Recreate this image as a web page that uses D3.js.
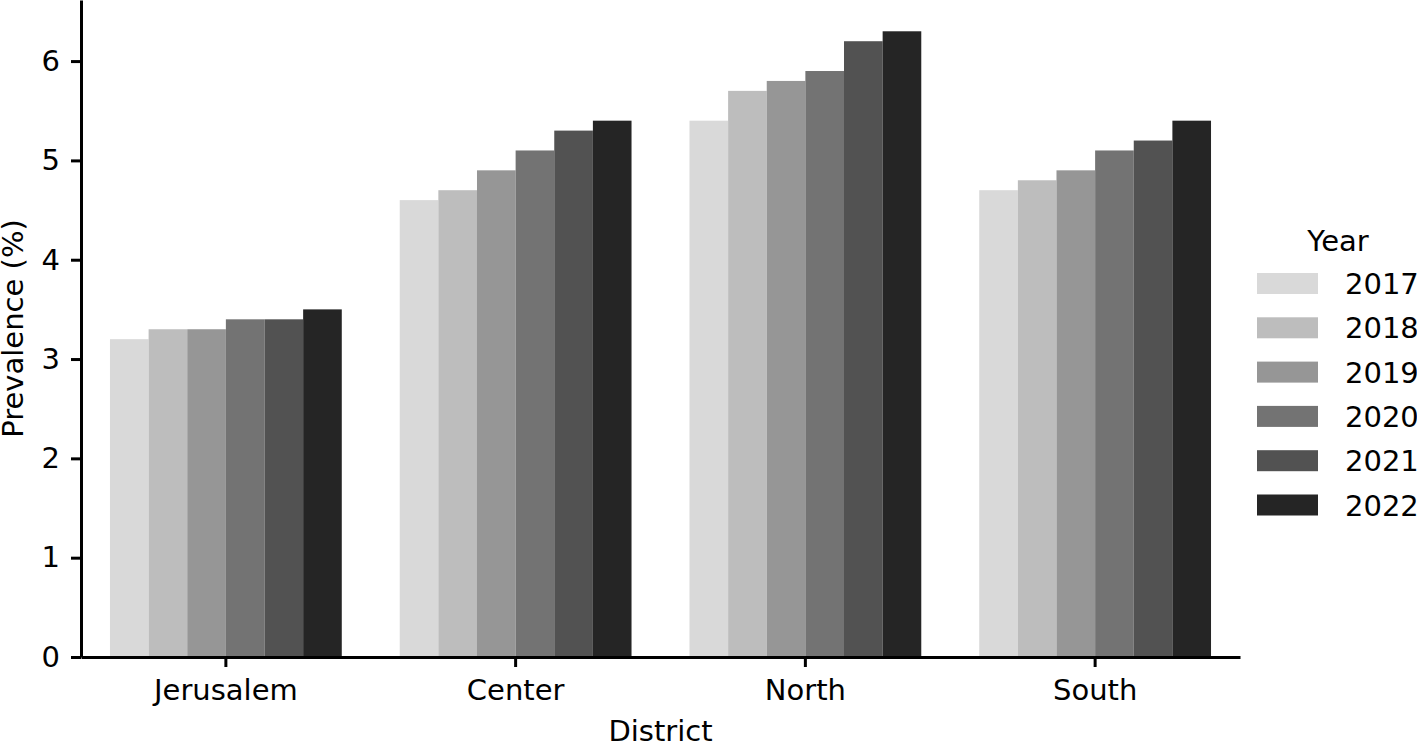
<!DOCTYPE html>
<html>
<head>
<meta charset="utf-8">
<script src="https://cdn.jsdelivr.net/npm/d3@7"></script>
<style>
  body { margin: 0; background: #fff; }
  text { font-family: "DejaVu Sans", sans-serif; fill: #000; }
</style>
</head>
<body>
<script>
const districts = ['Jerusalem', 'Center', 'North', 'South']
const years = ['2017', '2018', '2019', '2020', '2021', '2022']
const jerusalem = [3.2, 3.3, 3.3, 3.4, 3.4, 3.5]
const center = [4.6, 4.7, 4.9, 5.1, 5.3, 5.4]
const north = [5.4, 5.7, 5.8, 5.9, 6.2, 6.3]
const south = [4.7, 4.8, 4.9, 5.1, 5.2, 5.4]
const yTicks = [0, 1, 2, 3, 4, 5, 6]
const greys = ['#d9d9d9', '#bdbdbd', '#969696', '#737373', '#525252', '#252525']

const seriesByDistrict = [jerusalem, center, north, south]
const rows = []
districts.forEach((d, i) => {
  years.forEach((y, j) => rows.push({ district: d, year: y, value: seriesByDistrict[i][j] }))
})

const width = 1417
const height = 743
const plotLeft = 81, plotRight = 1240, plotTop = 0, plotBottom = 657
const fs = 29

const svg = d3.select('body').append('svg')
  .attr('width', width)
  .attr('height', height)

const x0 = d3.scaleBand()
  .domain(districts)
  .range([plotLeft, plotRight])
  .paddingInner(0.2)
  .paddingOuter(0.1)

const x1 = d3.scaleBand()
  .domain(years)
  .range([0, x0.bandwidth()])

const y = d3.scaleLinear()
  .domain([0, 6.3 * 1.05])
  .range([plotBottom, plotTop])

const colour = d3.scaleOrdinal().domain(years).range(greys)

svg.append('g')
  .selectAll('rect')
  .data(rows)
  .enter()
  .append('rect')
  .attr('x', d => x0(d.district) + x1(d.year))
  .attr('y', d => y(d.value))
  .attr('width', x1.bandwidth())
  .attr('height', d => y(0) - y(d.value))
  .attr('fill', d => colour(d.year))

// axes
const xAxis = svg.append('g')
  .attr('transform', `translate(0, ${plotBottom})`)
  .call(d3.axisBottom(x0).tickSize(10).tickPadding(12).tickSizeOuter(0))
xAxis.select('.domain').attr('stroke-width', 3)
xAxis.selectAll('.tick line').attr('stroke-width', 3)
xAxis.selectAll('text').attr('font-size', fs).attr('font-family', 'DejaVu Sans')

const yAxis = svg.append('g')
  .attr('transform', `translate(${plotLeft}, 0)`)
  .call(d3.axisLeft(y).tickValues(yTicks).tickFormat(d3.format('d')).tickSize(10).tickPadding(11).tickSizeOuter(0))
yAxis.select('.domain').attr('stroke-width', 3)
yAxis.selectAll('.tick line').attr('stroke-width', 3)
yAxis.selectAll('text').attr('font-size', fs).attr('font-family', 'DejaVu Sans')

svg.append('text')
  .attr('x', (plotLeft + plotRight) / 2)
  .attr('y', 741)
  .attr('text-anchor', 'middle')
  .attr('font-size', fs)
  .text('District')

svg.append('text')
  .attr('transform', `translate(23, ${(plotTop + plotBottom) / 2}) rotate(-90)`)
  .attr('text-anchor', 'middle')
  .attr('font-size', fs)
  .text('Prevalence (%)')

// legend
const legend = svg.append('g')
svg.append('text')
  .attr('x', 1338)
  .attr('y', 251)
  .attr('text-anchor', 'middle')
  .attr('font-size', fs)
  .text('Year')

const item = legend.selectAll('g')
  .data(years)
  .enter()
  .append('g')
  .attr('transform', (d, i) => `translate(1257, ${273 + i * 44.3})`)

item.append('rect')
  .attr('width', 61)
  .attr('height', 21)
  .attr('fill', d => colour(d))

item.append('text')
  .attr('x', 88)
  .attr('y', 21)
  .attr('font-size', fs)
  .text(d => d)
</script>
</body>
</html>
